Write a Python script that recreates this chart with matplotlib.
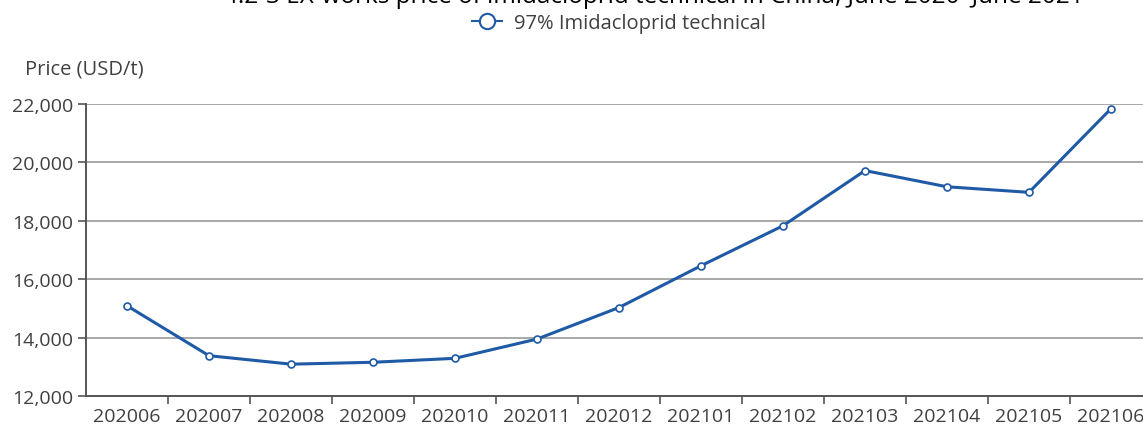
import matplotlib
matplotlib.use("Agg")
import matplotlib.pyplot as plt
from matplotlib.lines import Line2D
from matplotlib.ticker import FuncFormatter, FixedLocator

plt.rcParams['font.family'] = ['Open Sans', 'DejaVu Sans']

months = ["202006", "202007", "202008", "202009", "202010", "202011", "202012",
          "202101", "202102", "202103", "202104", "202105", "202106"]
prices = [15090, 13380, 13090, 13155, 13290, 13950, 15030,
          16460, 17830, 19720, 19165, 18975, 21840]
series_name = "97% Imidacloprid technical"
title = "4.2-3 EX-works price of imidacloprid technical in China, June 2020\u2013June 2021"
y_label = "Price (USD/t)"

W, H = 1143, 427
fig = plt.figure(figsize=(W / 100, H / 100), dpi=100)
ax = fig.add_axes([86 / W, (H - 397) / H, (1152 - 86) / W, 292 / H])

line_color = "#1f5aa6"
text_color = "#404040"
x = list(range(len(months)))
ax.plot(x, prices, color=line_color, lw=2.2, marker="o", markersize=5,
        markerfacecolor="white", markeredgecolor=line_color, markeredgewidth=1.2,
        zorder=3)

ax.set_xlim(-0.5, len(months) - 0.5)
ax.set_ylim(12000, 22000)
ax.set_yticks(range(12000, 22001, 2000))
ax.yaxis.set_major_formatter(FuncFormatter(lambda v, p: f"{int(v):,}"))
ax.grid(axis="y", color="#a8a8a8", lw=1.4, zorder=0)
ax.set_axisbelow(True)

ax.set_xticks(x)
ax.set_xticklabels(months)
ax.xaxis.set_minor_locator(FixedLocator([i + 0.5 for i in range(len(months))]))
ax.tick_params(axis="x", which="major", length=0, pad=8, labelsize=14, labelcolor=text_color)
ax.tick_params(axis="x", which="minor", length=6, width=1.2, color="#555555")
ax.tick_params(axis="y", length=6, width=1.2, color="#555555", pad=3,
               labelsize=14, labelcolor=text_color)

for s in ["top", "right"]:
    ax.spines[s].set_visible(False)
for s in ["left", "bottom"]:
    ax.spines[s].set_color("#555555")
    ax.spines[s].set_linewidth(1.4)

fig.text(25 / W, 1 - 70 / H, y_label, ha="left", va="center", fontsize=14.5, color=text_color)
fig.text(654 / W, 1 - 3 / H, title, ha="center", va="baseline", fontsize=17.5, color="black")

handle = Line2D([], [], color=line_color, lw=1.5, marker="o", markersize=11,
                markerfacecolor="white", markeredgecolor=line_color, markeredgewidth=1.5)
fig.legend([handle], [series_name], loc="center", bbox_to_anchor=(619 / W, 1 - 24 / H),
           frameon=False, fontsize=14.5, handlelength=1.5, handletextpad=0.6,
           labelcolor=text_color)

fig.savefig("out.png", dpi=100)
